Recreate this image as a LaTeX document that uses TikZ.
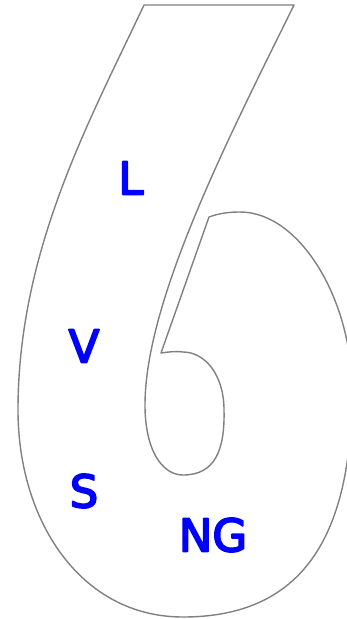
\documentclass[tikz,border=0pt]{standalone}
\usepackage{fontspec}
\newfontfamily\labelfont[RawFeature={embolden=4}]{DejaVu Sans}
\begin{document}
\begin{tikzpicture}[x=1pt, y=-1pt, line cap=round, line join=round,
    outline/.style={draw=gray, line width=1.4pt},
    letter/.style={text=blue, inner sep=0pt, font=\labelfont\fontsize{45}{50}\selectfont}]
  \clip (0,0) rectangle (347,619);
  % Outline of the figure six: top bar, stem, inner loop and outer bowl.
  \draw[outline] (144,5) -- (294,5)
    .. controls (230,135) and (145,300) .. (145,405)
    .. controls (145,450) and (162,475) .. (183,475)
    .. controls (215,475) and (225,450) .. (224,410)
    .. controls (224,375) and (205,352) .. (183,352)
    .. controls (175,351) and (168,352) .. (161,353)
    -- (209,217)
    .. controls (220,213) and (230,212) .. (240,212)
    .. controls (300,212) and (352,300) .. (352,390)
    .. controls (352,540) and (300,617) .. (183,617)
    .. controls (80,617) and (18,520) .. (18,410)
    .. controls (18,250) and (90,120) .. (144,5);
  % Region labels.
  \node[letter] (lbl-L) at (131,178) {L};
  \node[letter] (lbl-V) at (84,346) {V};
  \node[letter] (lbl-S) at (84,491) {S};
  \node[letter] (lbl-NG) at (213,535) {NG};
\end{tikzpicture}
\end{document}
